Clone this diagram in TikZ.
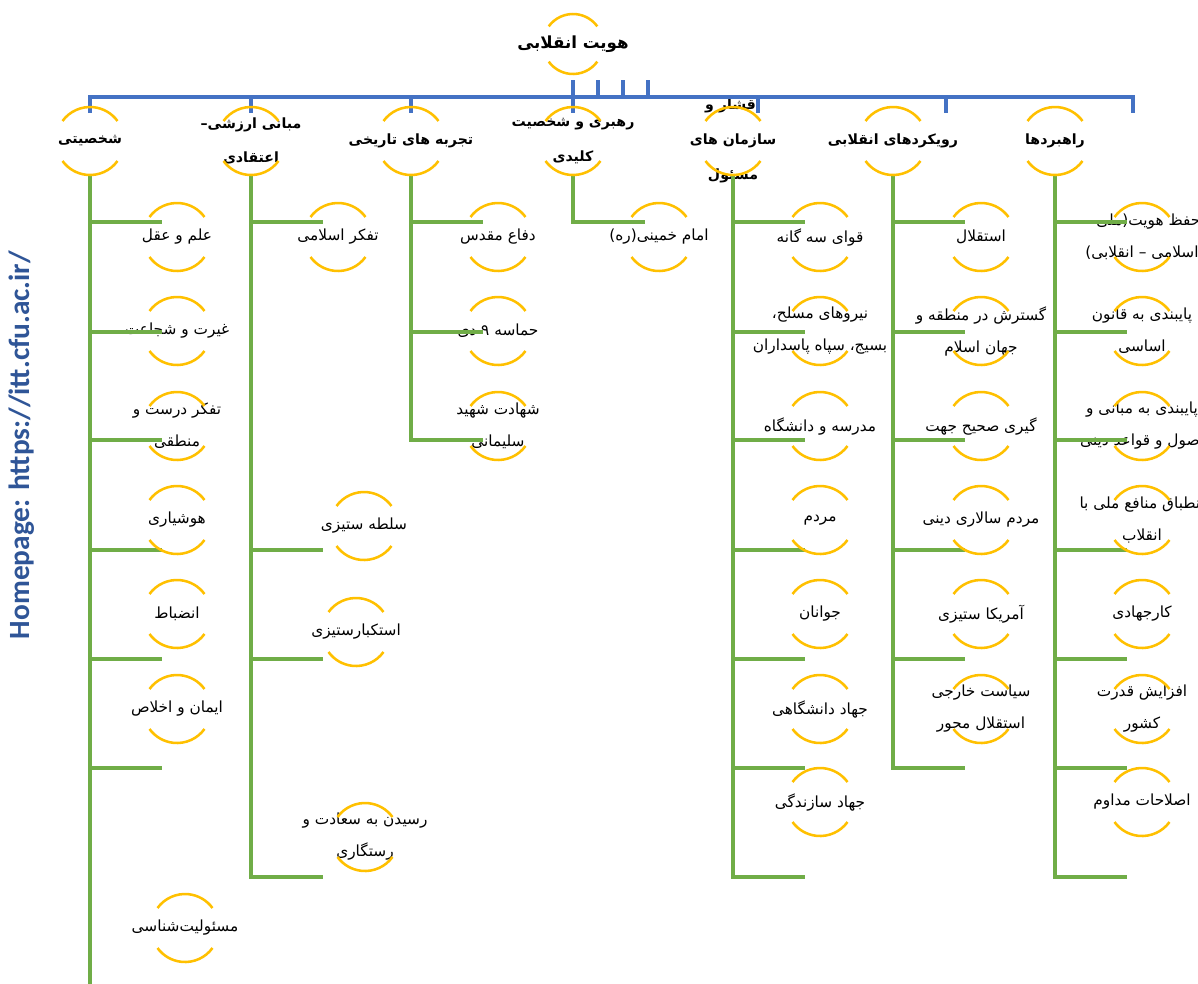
\documentclass[tikz,border=0pt]{standalone}
\usepackage{fontspec}
\newfontfamily\arabicfont[Script=Arabic]{DejaVu Sans}
\newfontfamily\homefont{Carlito}
\TeXXeTstate=1
\usepackage{tikz}
\definecolor{ringgold}{HTML}{FFC000}
\definecolor{stemgreen}{HTML}{70AD47}
\definecolor{busblue}{HTML}{4472C4}
\definecolor{homeblue}{HTML}{2F5597}
\newcommand{\fa}[1]{\beginR #1\endR}
\tikzstyle{root} = [
	font=\arabicfont\bfseries\fontsize{12.5}{16}\selectfont,
]
\tikzstyle{group} = [
	align=center,
	font=\arabicfont\bfseries\fontsize{10.6}{26}\selectfont,
]
\tikzstyle{leaf} = [
	align=center,
	font=\arabicfont\fontsize{11.5}{24}\selectfont,
]
\tikzstyle{homepage} = [
	rotate=90,
	text=homeblue,
	font=\homefont\bfseries\fontsize{22}{24}\selectfont,
]
\tikzstyle{ring} = [draw=ringgold, line width=1.9pt]
\tikzstyle{bus} = [draw=busblue, line width=2.5pt]
\tikzstyle{stem} = [draw=stemgreen, line width=2.6pt]

\begin{document}
\begin{tikzpicture}[x=0.75pt, y=-0.75pt]
	\useasboundingbox (0,0) rectangle (1198,983);
	\node (home) [homepage] at (22,445) {Homepage: https://itt.cfu.ac.ir/};

	\node (top) [root] at (573,44) {\fa{هویت انقلابی}};
	\node (c1) [group] at (90,141) {\fa{شخصیتی}};
	\node (c2) [group] at (251,141) {\fa{مبانی ارزشی{}–}\\\fa{اعتقادی}};
	\node (c3) [group] at (411,141) {\fa{تجربه های تاریخی}};
	\node (c4) [group] at (573,141) {\fa{رهبری و شخصیت}\\\fa{کلیدی}};
	\node (c5) [group] at (733,141) {\fa{اقشار و}\\\fa{سازمان های}\\\fa{مسئول}};
	\node (c6) [group] at (893,141) {\fa{رویکردهای انقلابی}};
	\node (c7) [group] at (1055,141) {\fa{راهبردها}};

	\node (s1) [leaf] at (177,237) {\fa{علم و عقل}};
	\node (s2) [leaf] at (177,331) {\fa{غیرت و شجاعت}};
	\node (s3) [leaf] at (177,426) {\fa{تفکر درست و}\\\fa{منطقی}};
	\node (s4) [leaf] at (177,520) {\fa{هوشیاری}};
	\node (s5) [leaf] at (177,614) {\fa{انضباط}};
	\node (s6) [leaf] at (177,709) {\fa{ایمان و اخلاص}};
	\node (s7) [leaf] at (185,928) {\fa{مسئولیت^^^^200cشناسی}};

	\node (m1) [leaf] at (338,237) {\fa{تفکر اسلامی}};
	\node (m2) [leaf] at (364,526) {\fa{سلطه ستیزی}};
	\node (m3) [leaf] at (356,632) {\fa{استکبارستیزی}};
	\node (m4) [leaf] at (365,837) {\fa{رسیدن به سعادت و}\\\fa{رستگاری}};

	\node (t1) [leaf] at (498,237) {\fa{دفاع مقدس}};
	\node (t2) [leaf] at (498,331) {\fa{حماسه ۹ دی}};
	\node (t3) [leaf] at (498,426) {\fa{شهادت شهید}\\\fa{سلیمانی}};

	\node (r1) [leaf] at (659,237) {\fa{امام خمینی(ره)}};

	\node (a1) [leaf] at (820,237) {\fa{قوای سه گانه}};
	\node (a2) [leaf] at (820,331) {\fa{نیروهای مسلح،}\\\fa{بسیج، سپاه پاسداران}};
	\node (a3) [leaf] at (820,426) {\fa{مدرسه و دانشگاه}};
	\node (a4) [leaf] at (820,520) {\fa{مردم}};
	\node (a5) [leaf] at (820,614) {\fa{جوانان}};
	\node (a6) [leaf] at (820,709) {\fa{جهاد دانشگاهی}};
	\node (a7) [leaf] at (820,802) {\fa{جهاد سازندگی}};

	\node (k1) [leaf] at (981,237) {\fa{استقلال}};
	\node (k2) [leaf] at (981,331) {\fa{گسترش در منطقه و}\\\fa{جهان اسلام}};
	\node (k3) [leaf] at (981,426) {\fa{گیری صحیح جهت}};
	\node (k4) [leaf] at (981,520) {\fa{مردم سالاری دینی}};
	\node (k5) [leaf] at (981,614) {\fa{آمریکا ستیزی}};
	\node (k6) [leaf] at (981,709) {\fa{سیاست خارجی}\\\fa{استقلال محور}};

	\node (h1) [leaf] at (1142,237) {\fa{حفظ هویت(ملی –}\\\fa{اسلامی – انقلابی)}};
	\node (h2) [leaf] at (1142,331) {\fa{پایبندی به قانون}\\\fa{اساسی}};
	\node (h3) [leaf] at (1142,426) {\fa{پایبندی به مبانی و}\\\fa{اصول و قواعد دینی}};
	\node (h4) [leaf] at (1142,520) {\fa{انطباق منافع ملی با}\\\fa{انقلاب}};
	\node (h5) [leaf] at (1142,614) {\fa{کارجهادی}};
	\node (h6) [leaf] at (1142,709) {\fa{افزایش قدرت}\\\fa{کشور}};
	\node (h7) [leaf] at (1142,802) {\fa{اصلاحات مداوم}};

	% blue bus under the root
	\coordinate (busR) at (1133,97);
	\draw[bus] ([shift={(0,-28)}]c1.center) |- (busR) -- ++(0,16);
	\foreach \c/\dx in {c2/0,c3/0,c5/25,c6/53}
		\draw[bus] (\c |- busR) ++(\dx,0) -- ++(0,16);
	\draw[bus] ([shift={(0,36)}]top.center) -- ([shift={(0,-28)}]c4.center);
	\foreach \dx in {25,50,75}
		\draw[bus] ([shift={(\dx,36)}]top.center) -- ++(0,17);

	% green stems to the leaves
	\foreach \c/\ys in {c1/{222,332,440,550,659,768}, c2/{222,550,659,877}, c3/{222,332,440}, c4/{222}, c5/{222,332,440,550,659,768,877}, c6/{222,332,440,550,659,768}, c7/{222,332,440,550,659,768,877}}
		\foreach \y [count=\i] in \ys {
			\path (\c |- 0,\y) ++(72,0) coordinate (\c-b\i);
			\draw[stem] ([shift={(0,34)}]\c.center) |- (\c-b\i);
		}
	\coordinate (c1-tail) at (90,990);
	\draw[stem] ([shift={(0,34)}]c1.center) -- (c1-tail);

	% yellow rings
	\draw[ring] ([shift={(36:30)}]top.center) arc[start angle=36, end angle=144, radius=30];
	\draw[ring] ([shift={(216:30)}]top.center) arc[start angle=216, end angle=324, radius=30];
	\foreach \p/\num in {c/7,s/7,m/4,t/3,r/1,a/7,k/6,h/7}
		\foreach \i in {1,...,\num} {
			\draw[ring] ([shift={(36:34)}]\p\i.center) arc[start angle=36, end angle=144, radius=34];
			\draw[ring] ([shift={(216:34)}]\p\i.center) arc[start angle=216, end angle=324, radius=34];
		}
\end{tikzpicture}
\end{document}
